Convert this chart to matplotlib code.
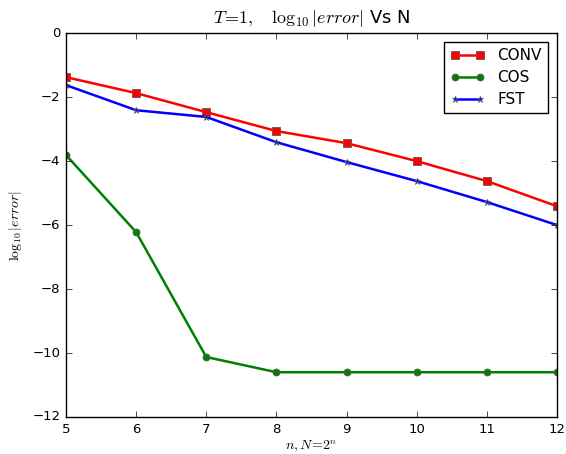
import matplotlib
matplotlib.use("Agg")
import matplotlib.pyplot as plt

plt.style.use("classic")
plt.rcParams["mathtext.fontset"] = "cm"

n = [5, 6, 7, 8, 9, 10, 11, 12]
conv = [-1.375, -1.875, -2.47, -3.06, -3.44, -4.0, -4.625, -5.41]
cos = [-3.81, -6.22, -10.125, -10.6, -10.6, -10.6, -10.6, -10.6]
fst = [-1.625, -2.41, -2.62, -3.41, -4.03, -4.625, -5.28, -6.0]

fig = plt.figure(figsize=(5.66, 4.54), dpi=100, facecolor="white")
ax = fig.add_axes([0.1166, 0.0815, 0.8674, 0.8455])

style = dict(lw=1.8, mec="0.35", mew=0.6)
ax.plot(n, conv, "r-s", ms=6, label="CONV", **style)
ax.plot(n, cos, "g-o", ms=5, label="COS", **style)
ax.plot(n, fst, "b-*", ms=5, label="FST", **style)

ax.set_xlim(5, 12)
ax.set_ylim(-12, 0)
ax.tick_params(labelsize=9.5, pad=4)
ax.set_title(r"$T\!=\!1,\quad\log_{10}|error|$ Vs N", fontsize=13, pad=7)
ax.set_xlabel(r"$n, N\!=\!2^n$", fontsize=10, labelpad=2)
ax.set_ylabel(r"$\log_{10}|error|$", fontsize=10, labelpad=6)
ax.legend(loc="upper right", fontsize=11, numpoints=2, handlelength=2.3,
          labelspacing=0.45, borderaxespad=0.6)

fig.savefig("out.png", dpi=100, facecolor="white")
